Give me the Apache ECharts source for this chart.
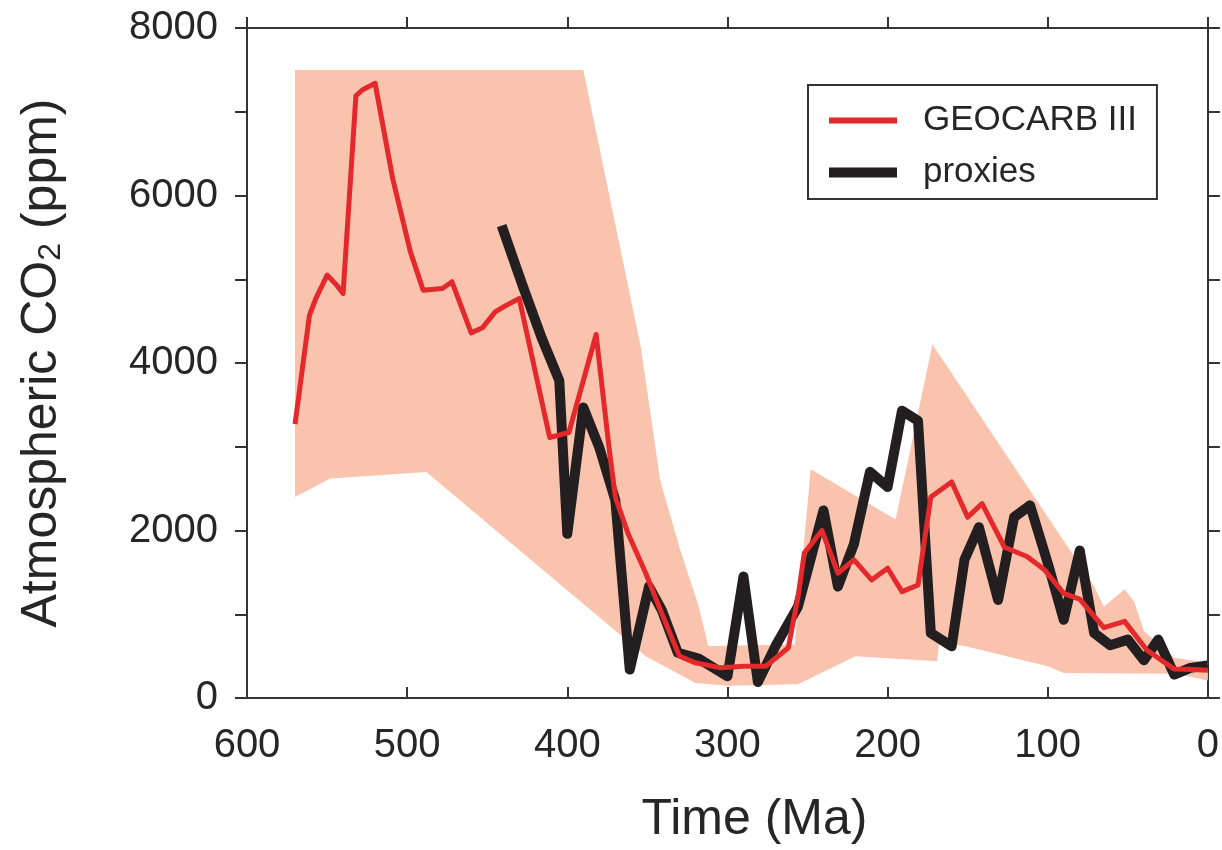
<!DOCTYPE html>
<html>
<head>
<meta charset="utf-8">
<script src="https://cdn.jsdelivr.net/npm/echarts@6/dist/echarts.min.js"></script>
<style>
  html, body { margin: 0; padding: 0; background: #fff; }
  #chart { width: 1222px; height: 850px; }
</style>
</head>
<body>
<div id="chart"></div>
<script>
// Time axis ticks (Ma), young on the right
const timeTicks = [600, 500, 400, 300, 200, 100, 0];
const co2Ticks = [0, 2000, 4000, 6000, 8000];

// GEOCARB III model curve: age (Ma) and CO2 (ppm)
const geocarbAge = [570, 561, 557, 550, 544, 540, 532, 528, 520, 509, 498, 490, 478, 472, 460, 453, 445, 438, 430, 411, 399, 382, 374, 370, 362, 351, 341, 330, 320, 304, 290, 276, 262, 256, 252, 241, 231, 221, 210, 200, 191, 181, 173, 160, 150, 141, 127, 113, 102, 90, 80, 65, 52, 38, 21, 10, 0];
const geocarbCO2 = [3270, 4570, 4770, 5050, 4930, 4830, 7190, 7260, 7340, 6200, 5330, 4870, 4890, 4970, 4360, 4420, 4610, 4690, 4770, 3110, 3170, 4340, 3000, 2400, 1960, 1490, 1010, 500, 420, 360, 380, 380, 600, 1200, 1730, 2000, 1490, 1650, 1410, 1550, 1270, 1350, 2400, 2580, 2160, 2320, 1800, 1690, 1530, 1250, 1180, 840, 915, 570, 345, 340, 330];

// Proxy compilation: age (Ma) and CO2 (ppm)
const proxyAge = [441, 428, 416, 405, 400, 390, 380, 370, 361, 349, 341, 331, 318, 300, 290, 281, 270, 256, 240, 231, 221, 211, 200, 191, 181, 173, 160, 152, 143, 131, 121, 111, 100, 90, 80, 71, 61, 50, 40, 31, 21, 11, 0];
const proxyCO2 = [5640, 4930, 4300, 3790, 1960, 3470, 2990, 2360, 340, 1330, 1050, 540, 470, 260, 1450, 190, 620, 1090, 2240, 1330, 1840, 2700, 2520, 3430, 3310, 775, 617, 1650, 2040, 1170, 2160, 2300, 1610, 934, 1760, 775, 630, 697, 450, 697, 280, 360, 390];

// Uncertainty envelope: upper and lower bounds, each listed young to old
const bandHighAge = [0, 21, 40, 46, 52, 65, 71, 172, 195, 248, 258, 312, 318, 330, 342, 354, 390, 570];
const bandHighCO2 = [420, 480, 800, 1150, 1300, 1090, 1330, 4220, 2130, 2730, 640, 620, 1100, 1800, 2600, 4180, 7500, 7500];
const bandLowAge = [0, 20, 90, 100, 152, 160, 168, 169, 220, 256, 300, 320, 351, 488, 548, 570];
const bandLowCO2 = [210, 290, 300, 380, 620, 640, 640, 440, 500, 165, 145, 180, 500, 2700, 2620, 2400];

const pairs = (xs, ys) => xs.map((x, i) => [x, ys[i]]);
const bandOutline = pairs(bandHighAge, bandHighCO2).concat(pairs(bandLowAge, bandLowCO2).reverse());

const FONT = '"Liberation Sans", Arial, Helvetica, sans-serif';
const INK = '#262626';
const AXIS = '#333333';
const RED = '#e3292b';
const BLACK = '#231f20';

// Legend swatches: a thinner bar for the model line, a full-height bar for proxies
const thinBar = 'path://M0,0L68,0ZM0,2L68,2L68,8L0,8ZM0,10L68,10Z';

const chart = echarts.init(document.getElementById('chart'), null, { renderer: 'canvas' });

const baseX = {
  type: 'value', min: 0, max: 600, interval: 100, inverse: true,
  splitLine: { show: false },
  axisLine: { show: true, onZero: false, lineStyle: { color: AXIS, width: 2 } },
  axisTick: { show: true, length: 11, lineStyle: { color: AXIS, width: 2 } }
};
const baseY = {
  type: 'value', min: 0, max: 8000, interval: 1000,
  splitLine: { show: false },
  axisLine: { show: true, onZero: false, lineStyle: { color: AXIS, width: 2 } },
  axisTick: { show: true, length: 12, lineStyle: { color: AXIS, width: 2 } }
};

chart.setOption({
  animation: false,
  backgroundColor: '#ffffff',
  grid: { left: 247, right: 11, top: 28, bottom: 148, containLabel: false },
  legend: {
    left: 808, top: 85, orient: 'vertical',
    padding: [18, 20, 9, 21],
    itemWidth: 68, itemHeight: 10, itemGap: 17,
    borderColor: AXIS, borderWidth: 2, backgroundColor: '#fff',
    itemStyle: { borderWidth: 0 },
    textStyle: { fontFamily: FONT, fontSize: 35, color: INK, padding: [0, 0, 0, 21] },
    data: [
      { name: 'GEOCARB III', icon: thinBar, itemStyle: { color: RED, borderWidth: 0 } },
      { name: 'proxies', icon: 'rect', itemStyle: { color: BLACK, borderWidth: 0 } }
    ]
  },
  xAxis: [
    Object.assign({}, baseX, {
      position: 'bottom',
      name: 'Time (Ma)', nameLocation: 'middle', nameGap: 97,
      nameTextStyle: { fontFamily: FONT, fontSize: 50, color: INK, padding: [0, 0, 0, 54] },
      axisTick: { show: true, inside: true, length: 11, lineStyle: { color: AXIS, width: 2 } },
      axisLabel: {
        margin: 28, fontFamily: FONT, fontSize: 40, color: INK,
        formatter: v => (timeTicks.indexOf(v) >= 0 ? String(v) : '')
      }
    }),
    Object.assign({}, baseX, { position: 'top', axisLabel: { show: false } })
  ],
  yAxis: [
    Object.assign({}, baseY, {
      position: 'left',
      name: 'Atmospheric CO{sub|2} (ppm)', nameLocation: 'middle', nameGap: 180, nameRotate: 90,
      nameTextStyle: {
        fontFamily: FONT, fontSize: 50, color: INK,
        rich: { sub: { fontFamily: FONT, fontSize: 32, color: INK, verticalAlign: 'bottom', padding: [14, 0, 0, 0] } }
      },
      axisLabel: {
        margin: 29, fontFamily: FONT, fontSize: 40, color: INK,
        formatter: v => (co2Ticks.indexOf(v) >= 0 ? String(v) : '')
      }
    }),
    Object.assign({}, baseY, { position: 'right', axisLabel: { show: false } })
  ],
  series: [
    {
      name: 'envelope',
      type: 'custom',
      xAxisIndex: 0, yAxisIndex: 0,
      silent: true, z: 1,
      data: [0],
      renderItem: (params, api) => ({
        type: 'polygon',
        shape: { points: bandOutline.map(p => api.coord(p)) },
        style: { fill: '#f9c3ae', stroke: null }
      })
    },
    {
      name: 'GEOCARB III',
      type: 'line', z: 3,
      data: pairs(geocarbAge, geocarbCO2),
      symbol: 'none',
      lineStyle: { color: RED, width: 5, join: 'round' },
      itemStyle: { color: RED }
    },
    {
      name: 'proxies',
      type: 'line', z: 2,
      data: pairs(proxyAge, proxyCO2),
      symbol: 'none',
      lineStyle: { color: BLACK, width: 10, join: 'round' },
      itemStyle: { color: BLACK }
    }
  ]
});
</script>
</body>
</html>
